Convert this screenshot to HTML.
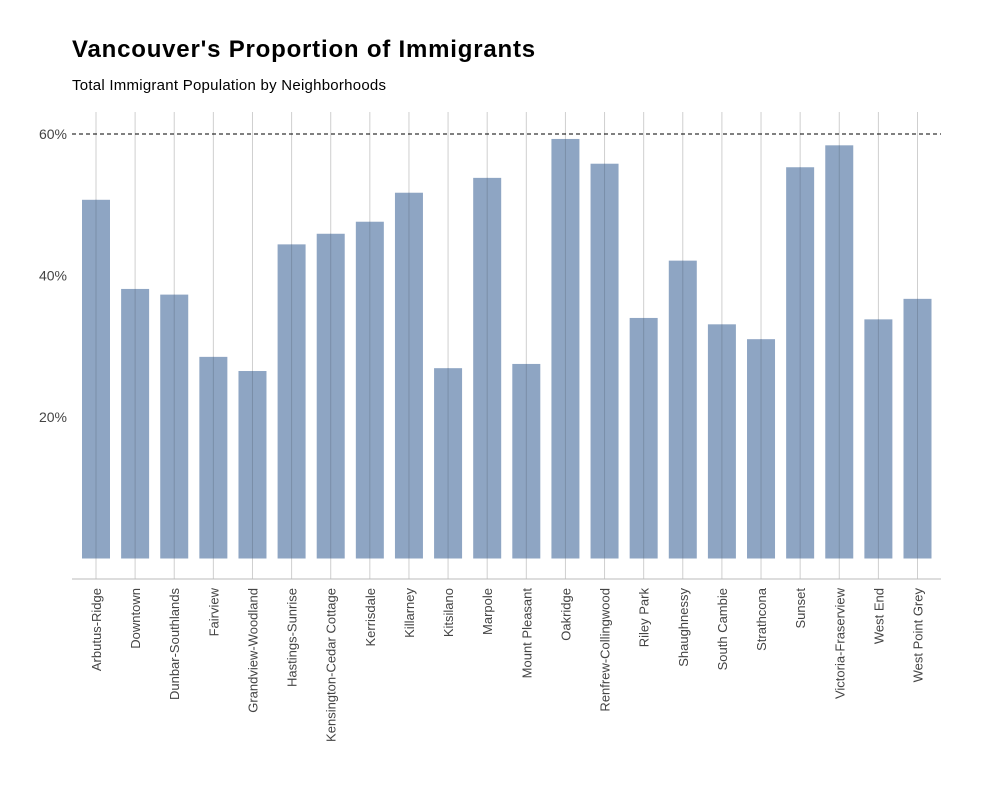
<!DOCTYPE html>
<html><head><meta charset="utf-8"><style>
body{margin:0;background:#fff;}
svg{display:block;font-family:"Liberation Sans",Arial,sans-serif;}
</style></head><body>
<svg id="chart" width="981" height="800">
<text x="72" y="57" font-size="24" font-weight="bold" letter-spacing="0.8" fill="#000">Vancouver's Proportion of Immigrants</text>
<text x="72" y="90" font-size="15" letter-spacing="0.25" fill="#000">Total Immigrant Population by Neighborhoods</text>
<g id="grid"></g><g id="bars"></g><g id="axes"></g>
</svg>
<script>
const categories=["Arbutus-Ridge","Downtown","Dunbar-Southlands","Fairview","Grandview-Woodland","Hastings-Sunrise","Kensington-Cedar Cottage","Kerrisdale","Killarney","Kitsilano","Marpole","Mount Pleasant","Oakridge","Renfrew-Collingwood","Riley Park","Shaughnessy","South Cambie","Strathcona","Sunset","Victoria-Fraserview","West End","West Point Grey"];
const values=[50.7,38.1,37.3,28.5,26.5,44.4,45.9,47.6,51.7,26.9,53.8,27.5,59.3,55.8,34.0,42.1,33.1,31.0,55.3,58.4,33.8,36.7];
const yTicks=[20,40,60];
const refLine=60;
const NS="http://www.w3.org/2000/svg";
const left=72,right=941,y0=558.5,pxPer=7.075;
const x0=96,step=(917.5-96)/21,bw=28;
const y=v=>y0-v*pxPer;
const x=i=>x0+i*step;
function mk(tag,attrs,parent,text){const e=document.createElementNS(NS,tag);for(const k in attrs)e.setAttribute(k,attrs[k]);if(text!=null)e.textContent=text;document.getElementById(parent).appendChild(e);return e;}
categories.forEach((c,i)=>{
 const g=mk('line',{x1:x(i),x2:x(i),y1:112,y2:579,stroke:'#cfcfcf','stroke-width':1},'grid');
 
 
});
categories.forEach((c,i)=>{
 const r=mk('rect',{x:x(i)-bw/2,y:y(values[i]),width:bw,height:y0-y(values[i]),fill:'#8ea5c3'},'bars');
 
 
 const l=mk('line',{x1:x(i),x2:x(i),y1:y(values[i]),y2:y0,stroke:'#7a8ea8','stroke-width':1},'bars');
 
 
 const t=mk('text',{x:0,y:0,transform:`translate(${x(i)+5},588) rotate(-90)`,'text-anchor':'end','font-size':13,fill:'#444'},'axes',c);
 
 
});
yTicks.forEach(v=>{
 const t=mk('text',{x:67,y:y(v)+5,'text-anchor':'end','font-size':14,fill:'#444'},'axes',v+'%');
 
 
});
const d=mk('line',{x1:left,x2:right,y1:y(refLine),y2:y(refLine),stroke:'#000','stroke-dasharray':'4,3','stroke-width':1},'axes');


const a=mk('line',{x1:left,x2:right,y1:579,y2:579,stroke:'#bbb','stroke-width':1},'axes');


</script>
</body></html>
